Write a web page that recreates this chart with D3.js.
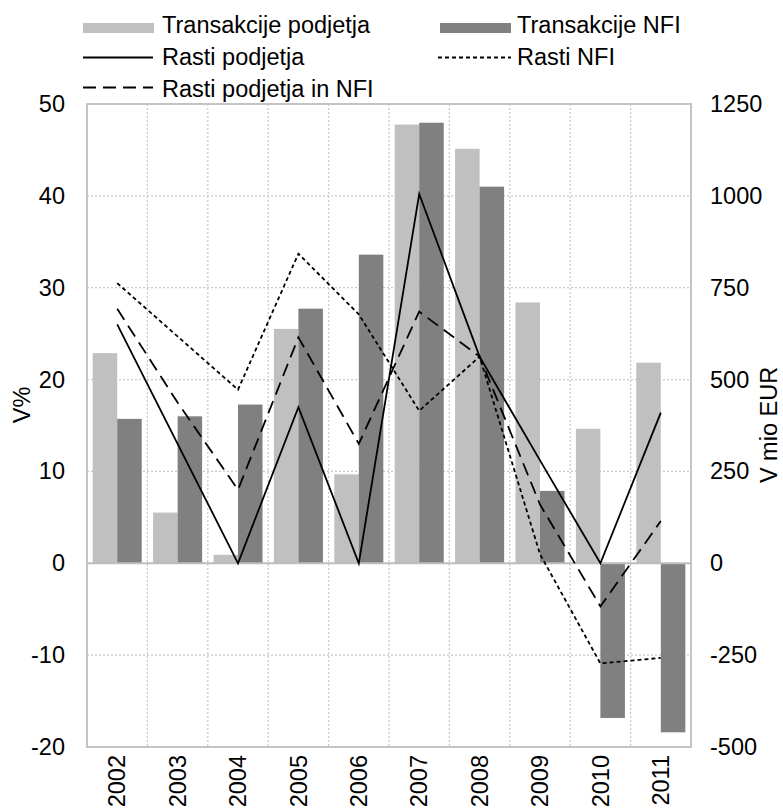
<!DOCTYPE html>
<html lang="sl">
<head>
  <meta charset="utf-8">
  <title>Transakcije in rasti</title>
  <script src="https://cdn.jsdelivr.net/npm/d3@7"></script>
  <style>
    body {
      margin: 0;
      background: #fff;
    }
    svg text {
      font-family: "Liberation Sans", Arial, Helvetica, sans-serif;
      fill: #000;
    }
  </style>
</head>
<body>
  <svg id="chart" width="783" height="808"></svg>

  <script>
    //
    // Data
    //

    var years = ['2002', '2003', '2004', '2005', '2006', '2007', '2008', '2009', '2010', '2011']
    // bars, V mio EUR (right axis)
    var transPodjetja = [572, 138, 23, 638, 242, 1194, 1128, 710, 366, 546]
    var transNFI = [393, 400, 432, 693, 840, 1199, 1025, 197, -421, -460]
    // lines, V % (left axis)
    var rastiPodjetja = [26, 13, 0, 17, 0, 40.2, 22.5, 11.2, 0, 16.4]
    var rastiNFI = [30.5, 24.7, 18.9, 33.7, 27.1, 16.6, 22.5, 1.0, -10.9, -10.3]
    var rastiSkupaj = [27.7, 17.5, 8.0, 24.6, 13.0, 27.4, 22.5, 6.4, -4.7, 4.6]

    var leftTicks = [-20, -10, 0, 10, 20, 30, 40, 50]
    var rightTicks = [-500, -250, 0, 250, 500, 750, 1000, 1250]

    //
    // Configuration
    //

    var plot = { left: 87, right: 691, top: 104, bottom: 747 }
    var colorLight = '#c0c0c0'
    var colorDark = '#808080'
    var colorGrid = '#c8c8c8'
    var fontSize = 23.5
    // plain hyphen minus, no thousands separator
    var plain = function(d) { return String(d) }

    var svg = d3.select('#chart')

    var x = d3.scaleBand().domain(years).range([plot.left, plot.right])
    var yLeft = d3.scaleLinear().domain([-20, 50]).range([plot.bottom, plot.top])
    var yRight = d3.scaleLinear().domain([-500, 1250]).range([plot.bottom, plot.top])

    var step = x.bandwidth()
    var xInner = d3.scaleBand().domain(['p', 'n'])
      .range([step * 0.094, step * 0.906])

    //
    // Grid
    //

    var grid = svg.append('g')
    grid.selectAll('line.h')
      .data(leftTicks.filter(function(t) { return t > -20 && t < 50 && t !== 0 }))
      .enter().append('line')
      .attr('x1', plot.left).attr('x2', plot.right)
      .attr('y1', function(d) { return yLeft(d) })
      .attr('y2', function(d) { return yLeft(d) })
      .attr('stroke', colorGrid).attr('stroke-width', 1.2)
      .attr('stroke-dasharray', '2,2')

    grid.selectAll('line.v')
      .data(years.slice(1))
      .enter().append('line')
      .attr('x1', function(d) { return x(d) })
      .attr('x2', function(d) { return x(d) })
      .attr('y1', plot.top).attr('y2', plot.bottom)
      .attr('stroke', colorGrid).attr('stroke-width', 1.2)
      .attr('stroke-dasharray', '2,2')

    //
    // Bars
    //

    var groups = svg.append('g').selectAll('g')
      .data(years)
      .enter().append('g')
      .attr('transform', function(d) { return 'translate(' + x(d) + ',0)' })

    function bar(sel, key, values, color) {
      sel.append('rect')
        .attr('x', xInner(key))
        .attr('width', xInner.bandwidth())
        .attr('y', function(d, i) { return yRight(Math.max(0, values[i])) })
        .attr('height', function(d, i) { return Math.abs(yRight(values[i]) - yRight(0)) })
        .attr('fill', color)
    }
    bar(groups, 'p', transPodjetja, colorLight)
    bar(groups, 'n', transNFI, colorDark)

    // zero line and frame
    svg.append('line')
      .attr('x1', plot.left).attr('x2', plot.right)
      .attr('y1', yLeft(0)).attr('y2', yLeft(0))
      .attr('stroke', '#bdbdbd').attr('stroke-width', 2)

    svg.append('rect')
      .attr('x', plot.left).attr('y', plot.top)
      .attr('width', plot.right - plot.left).attr('height', plot.bottom - plot.top)
      .attr('fill', 'none').attr('stroke', '#c4c4c4').attr('stroke-width', 2)

    //
    // Lines
    //

    var line = d3.line()
      .x(function(d, i) { return x(years[i]) + step / 2 })
      .y(function(d) { return yLeft(d) })

    function drawLine(values, dash) {
      svg.append('path')
        .datum(values)
        .attr('d', line)
        .attr('fill', 'none')
        .attr('stroke', '#000')
        .attr('stroke-width', 1.8)
        .attr('stroke-dasharray', dash)
    }
    drawLine(rastiPodjetja, null)
    drawLine(rastiNFI, '4,3')
    drawLine(rastiSkupaj, '13,7')

    //
    // Axes
    //

    var leftAxis = svg.append('g')
      .attr('transform', 'translate(' + (plot.left - 22) + ',0)')
      .call(d3.axisLeft(yLeft).tickValues(leftTicks).tickFormat(plain).tickSize(0).tickPadding(0))
    var rightAxis = svg.append('g')
      .attr('transform', 'translate(' + (plot.right + 19) + ',0)')
      .call(d3.axisRight(yRight).tickValues(rightTicks).tickFormat(plain).tickSize(0).tickPadding(0))
    var bottomAxis = svg.append('g')
      .attr('transform', 'translate(0,' + (plot.bottom + 8) + ')')
      .call(d3.axisBottom(x).tickSize(0).tickPadding(0))

    ;[leftAxis, rightAxis, bottomAxis].forEach(function(a) {
      a.select('.domain').remove()
      a.selectAll('text')
        .style('font-size', fontSize + 'px')
        .attr('fill', '#000')
    })

    bottomAxis.selectAll('text')
      .attr('text-anchor', 'end')
      .attr('transform', 'rotate(-90)')
      .attr('x', 0)
      .attr('y', 0)
      .attr('dy', '0.35em')

    svg.append('text')
      .attr('transform', 'translate(30,405) rotate(-90)')
      .attr('text-anchor', 'middle')
      .style('font-size', fontSize + 'px')
      .text('V%')

    svg.append('text')
      .attr('transform', 'translate(777,425) rotate(-90)')
      .attr('text-anchor', 'middle')
      .style('font-size', fontSize + 'px')
      .text('V mio EUR')

    //
    // Legend
    //

    var legend = svg.append('g').style('font-size', fontSize + 'px')

    function legendText(tx, ty, label) {
      legend.append('text').attr('x', tx).attr('y', ty).text(label)
    }

    legend.append('rect').attr('x', 83).attr('y', 23).attr('width', 71).attr('height', 10).attr('fill', colorLight)
    legendText(162, 33, 'Transakcije podjetja')
    legend.append('rect').attr('x', 440).attr('y', 23).attr('width', 71).attr('height', 10).attr('fill', colorDark)
    legendText(517, 33, 'Transakcije NFI')

    legend.append('line').attr('x1', 83).attr('x2', 153).attr('y1', 57.5).attr('y2', 57.5)
      .attr('stroke', '#000').attr('stroke-width', 1.8)
    legendText(162, 65, 'Rasti podjetja')
    legend.append('line').attr('x1', 438).attr('x2', 511).attr('y1', 57.5).attr('y2', 57.5)
      .attr('stroke', '#000').attr('stroke-width', 1.8).attr('stroke-dasharray', '4,3')
    legendText(517, 65, 'Rasti NFI')

    legend.append('line').attr('x1', 83).attr('x2', 153).attr('y1', 87.5).attr('y2', 87.5)
      .attr('stroke', '#000').attr('stroke-width', 1.8).attr('stroke-dasharray', '13,7')
    legendText(162, 97, 'Rasti podjetja in NFI')
  </script>
</body>
</html>
